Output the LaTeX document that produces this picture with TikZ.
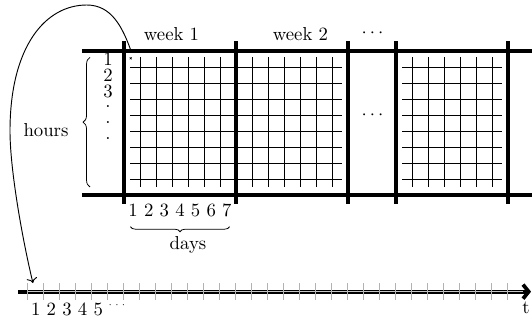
\documentclass[tikz,border=0pt]{standalone}
\usetikzlibrary{decorations.pathreplacing,arrows.meta}
\begin{document}
\begin{tikzpicture}[x=0.3cm,y=0.3cm,
  heavy/.style={line width=2pt},
  fine/.style={line width=0.5pt},
  tickmark/.style={line width=0.5pt, gray!60},
  lbl/.style={inner sep=0pt, anchor=base},
  bracedeco/.style={decorate, decoration={brace, amplitude=#1}, line width=0.4pt}]
\useasboundingbox (-7.75,-7.8125) rectangle (25.5,12.1875);
% fine grids
\foreach \x in {1,2,3,4,5,6,8,9,10,11,12,13,18,19,20,21,22,23}
  \draw[fine] (\x,0.5) -- (\x,8.625);
\foreach \y in {1,...,8} {
  \draw[fine] (0.375,\y) -- (13.625,\y);
  \draw[fine] (17.375,\y) -- (23.625,\y);
}
% small cross mark
\draw[line width=0.3pt] (0.36,8.48) -- (0.48,8.6) (0.36,8.6) -- (0.48,8.48);
% curved connector
\coordinate (cs) at (0.42,9.06);
\coordinate (ctop) at (-2.33,11.875);
\coordinate (cleft) at (-7.125,4);
\coordinate (ce) at (-5.69,-5.5);
\draw[line width=0.5pt,->] (cs) to[out=110,in=0] (ctop)
  .. controls (-4.9,11.875) and (-7.125,9.3) .. (cleft)
  .. controls (-7.125,1.5) and (-6.3,-3.0) .. (ce);
% thick frame
\draw[heavy] (-2.625,0) -- (25.5,0);
\draw[heavy] (-2.625,9) -- (25.5,9);
\foreach \x in {0,7,14,17,24}
  \draw[heavy] (\x,-0.55) -- (\x,9.6);
% labels
\node[lbl] (w1) at (2.97,9.625) {week 1};
\node[lbl] (w2) at (11.03,9.625) {week 2};
\node[lbl] (wd) at (15.53,9.83) {$\cdots$};
\node[lbl] (md) at (15.53,4.71) {$\cdots$};
\node[inner sep=0pt] (h1) at (-1,8.5) {1};
\node[inner sep=0pt] (h2) at (-1,7.5) {2};
\node[inner sep=0pt] (h3) at (-1,6.5) {3};
\node[lbl] (h4) at (-1,5.44) {.};
\node[lbl] (h5) at (-1,4.44) {.};
\node[lbl] (h6) at (-1,3.44) {.};
\draw[bracedeco=3.7pt] (-2.125,0.5) -- (-2.125,8.6);
\node[lbl] (hrs) at (-4.875,3.625) {hours};
\node[lbl] (dnum) at (3.5,-1.375) {1 2 3 4 5 6 7};
\draw[bracedeco=2.7pt] (6.6,-1.98) -- (0.4,-1.98);
\node[lbl] (days) at (4.0,-3.4) {days};
% time line
\coordinate (tl0) at (-6.6,-6.04);
\coordinate (tl1) at (25.44,-6.04);
\draw[line width=2pt,-{Straight Barb[length=3pt,width=7.5pt]}] (tl0) -- (tl1);
\draw[line width=0.6pt, gray!45] (-6.06,-6.04) -- (24.95,-6.04);
\foreach \i in {0,...,30}
  \draw[tickmark] (-6.06+\i,-5.52) -- (-6.06+\i,-6.56);
\node[lbl] (tnum) at (-3.56,-7.5) {1 2 3 4 5};
\node[lbl] (tdots) at (-0.44,-7.04) {\tiny$\cdots$};
\node[lbl] (tt) at (25.125,-7.375) {t};
\end{tikzpicture}
\end{document}
